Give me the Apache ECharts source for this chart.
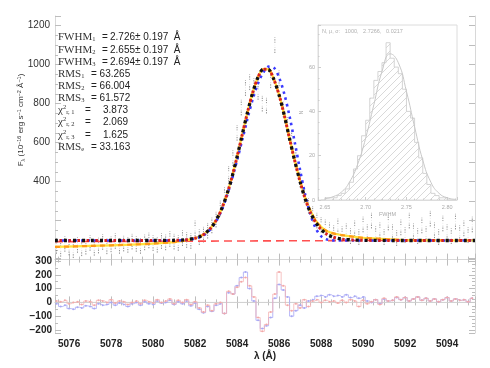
<!DOCTYPE html>
<html><head><meta charset="utf-8">
<script src="https://cdn.jsdelivr.net/npm/echarts@6/dist/echarts.min.js"></script>
<style>html,body{margin:0;padding:0;background:#fff}#c{width:490px;height:368px}</style>
</head><body><div id="c"></div>
<script>
// ---------------- data ----------------
const obsStart = 5075.4, obsStep = 0.2;
const obsFlux = [70,55,80,62,48,75,58,66,85,60,
 72,90,68,78,95,70,82,75,92,80,
 70,88,98,84,76,95,88,105,92,85,
 110,100,95,160,115,128,148,175,205,262,
 330,440,520,650,780,880,910,890,860,800,
 790,920,1100,930,770,690,620,520,410,330,
 275,235,200,178,165,150,135,170,130,145,
 120,160,115,180,140,200,130,150,115,190,
 140,110,165,125,200,145,120,175,130,210,
 150,115,185,140,120,195,135,160,125,180];
const obsErr = 40;

const fitLambda = [5075.33,5077,5079,5080,5081,5081.5,5082,5082.25,5082.5,5082.75,5083,5083.25,5083.5,5083.75,5084,5084.25,5084.5,5084.75,5085,5085.25,5085.5,5085.75,5086,5086.25,5086.5,5086.75,5087,5087.25,5087.5,5087.75,5088,5088.25,5088.5,5088.75,5089,5089.5,5090,5092,5095.33];
const fit1 = [98,98,98,98,99,101,110,119,136,162,201,256,329,420,527,643,757,859,936,977,975,925,845,740,620,505,400,310,240,190,155,132,118,110,105,101,99,98,98];
const fit2 = [65,70,77,82,90,97,110,120,137,163,202,257,330,421,528,644,758,860,937,978,976,926,846,742,622,508,404,316,250,200,168,148,137,130,126,118,112,100,98];
const fit3 = [98,98,98,98,98,100,108,117,132,158,196,250,322,410,510,615,725,825,905,960,990,985,935,850,735,600,460,330,230,160,120,104,99,98,98,98,98,98,98];
const contLambda = [5075.33, 5095.33];
const contFlux = [92, 100];

const resRed = [10,5,15,-10,0,5,-15,10,5,-20,
 15,10,0,20,-5,10,5,-15,0,10,
 -10,15,5,-5,20,0,10,25,-10,15,
 0,20,-15,5,-40,-70,-20,-60,-10,0,
 -80,80,60,110,150,180,120,40,-110,-210,
 -160,-70,60,220,120,-20,-60,-10,-40,20,
 -30,10,20,0,15,5,10,-5,15,0,
 20,10,-30,15,-10,5,20,-15,30,10,
 15,40,20,35,10,25,40,15,30,10,
 25,5,20,35,10,25,15,20,5,30];
const resBlue = [-10,-30,-20,-45,-50,-35,-40,-25,-30,-45,
 -10,-20,-15,0,-20,-5,-15,-30,-10,0,
 -20,5,-10,-15,10,-5,0,15,-15,5,
 -10,10,-25,-5,-50,-75,-30,-65,-20,-10,
 -80,70,60,120,180,220,100,10,-130,-190,
 -170,-110,30,130,90,40,-100,-60,-20,-40,
 10,20,45,50,40,55,45,50,40,55,
 35,45,30,40,10,0,20,-10,25,10,
 15,35,20,35,10,25,40,15,30,10,
 25,5,20,35,10,25,15,20,5,30];

const histEdges = [2.645,2.650,2.655,2.660,2.665,2.670,2.675,2.680,2.685,2.690,2.695,2.700,2.705,2.710,2.715,2.720,2.725,2.730,2.735,2.740,2.745,2.750,2.755,2.760,2.765,2.770,2.775,2.780,2.785,2.790,2.795,2.800,2.805,2.810];
const histCounts = [0,1,1,1,2,3,5,8,14,20,29,36,46,54,58,62,71,64,60,57,50,40,37,26,19,12,7,3,2,1,1,0,0];
const gaussX = [2.65,2.66,2.67,2.68,2.69,2.70,2.71,2.72,2.73,2.74,2.75,2.76,2.77,2.78,2.79,2.80,2.81];
const gaussY = [0.5,1.5,3.5,8,16,28,43,58,66,62,49,33,18,8,3,1,0.3];

const fwhmVals = ['2.726','2.655','2.694'];
const fwhmErr = ['0.197','0.197','0.197'];
const rmsVals = ['63.265','66.004','61.572'];
const chiVals = ['3.873','2.069','1.625'];
const rmsEVal = '33.163';
const insetHeader = 'N, μ, σ:   1000,   2.7266,   0.0217';
const yTitle = '{a|F}{s|λ}{a| (10}{p|−16}{a| erg s}{p|−1}{a| cm}{p|−2}{a| Å}{p|−1}{a|)}';
const xTitle = 'λ (Å)';

// ---------------- build ----------------
const obsData = obsFlux.map((v,i)=>[+(obsStart+obsStep*i).toFixed(2), v]);
const resRedData = resRed.map((v,i)=>[+(obsStart+obsStep*i).toFixed(2), v]);
const resBlueData = resBlue.map((v,i)=>[+(obsStart+obsStep*i).toFixed(2), v]);
const pair = (xs, ys) => xs.map((x,i)=>[x, ys[i]]);
const histData = histEdges.map((x,i)=>[x, i<histCounts.length ? histCounts[i] : 0]);

// hatch pattern
const pc = document.createElement('canvas');
pc.width = 7; pc.height = 7;
const cx = pc.getContext('2d');
cx.strokeStyle = '#cfcfcf'; cx.lineWidth = 0.8;
cx.beginPath(); cx.moveTo(0,7); cx.lineTo(7,0); cx.moveTo(-1,1); cx.lineTo(1,-1); cx.moveTo(6,8); cx.lineTo(8,6); cx.stroke();

const FR = '#d8d8d8', TK = '#bdbdbd';
const tickLbl = {color:'#333', fontSize:10, fontFamily:'Liberation Sans, Arial'};
function frameAx(extra){
  return Object.assign({
    type:'value', axisLine:{show:true, lineStyle:{color:FR}},
    axisTick:{show:true, inside:true, length:6, lineStyle:{color:TK}},
    minorTick:{show:true, splitNumber:4, length:3, lineStyle:{color:TK}},
    splitLine:{show:false}, axisLabel:{show:false}
  }, extra);
}
const X0 = 5075.33, X1 = 5095.33;

const option = {
  animation:false,
  backgroundColor:'#fff',
  grid:[
    {left:55, right:15, top:16, height:243.6},
    {left:55, right:15, top:258, height:75},
    {left:318, width:139, top:25, height:175, show:true, backgroundColor:'#fff', borderColor:'#dcdcdc', borderWidth:1, z:20}
  ],
  xAxis:[
    frameAx({gridIndex:0, position:'bottom', min:X0, max:X1, splitNumber:10}),
    frameAx({gridIndex:0, position:'top', min:X0, max:X1, splitNumber:10}),
    frameAx({gridIndex:1, position:'bottom', min:X0, max:X1, splitNumber:10,
      axisLabel:{show:true, margin:6, showMinLabel:false, showMaxLabel:false, fontWeight:'bold', color:'#222',
        fontSize:10, fontFamily:'Liberation Sans, Arial', formatter:v=>String(Math.round(v))}}),
    frameAx({gridIndex:1, position:'top', min:X0, max:X1, splitNumber:10}),
    frameAx({gridIndex:2, position:'bottom', min:2.6415, max:2.812, splitNumber:4, z:21,
      axisLine:{show:true, lineStyle:{color:'#dcdcdc'}},
      axisTick:{show:true, inside:true, length:3, lineStyle:{color:'#ccc'}},
      minorTick:{show:true, splitNumber:5, length:1.5, lineStyle:{color:'#ccc'}},
      axisLabel:{show:true, fontSize:5.5, color:'#aaa', margin:4, showMinLabel:false, showMaxLabel:false, formatter:v=>v.toFixed(2)},
      name:'FWHM', nameLocation:'middle', nameGap:11, nameTextStyle:{fontSize:5.5, color:'#aaa'}})
  ],
  yAxis:[
    frameAx({gridIndex:0, position:'left', min:0, max:1250, interval:200,
      axisLabel:Object.assign({show:true, margin:5, showMaxLabel:false, formatter:v=> v>=400 ? String(v) : ''}, tickLbl)}),
    frameAx({gridIndex:0, position:'right', min:0, max:1250, interval:100, minorTick:{show:false}}),
    frameAx({gridIndex:1, position:'left', min:-222, max:322, splitNumber:5,
      minorTick:{show:true, splitNumber:2, length:3, lineStyle:{color:TK}},
      axisLabel:{show:true, margin:3, showMinLabel:false, showMaxLabel:false, fontSize:10, fontWeight:'bold', color:'#222', fontFamily:'Liberation Sans, Arial',
        formatter:v=> v<0 ? '−'+(-v) : String(v)}}),
    frameAx({gridIndex:1, position:'right', min:-222, max:322, splitNumber:5}),
    frameAx({gridIndex:2, position:'left', min:0, max:79, interval:20, z:21,
      axisLine:{show:true, lineStyle:{color:'#dcdcdc'}},
      axisTick:{show:true, inside:true, length:3, lineStyle:{color:'#ccc'}},
      minorTick:{show:true, splitNumber:4, length:1.5, lineStyle:{color:'#ccc'}},
      axisLabel:{show:true, fontSize:5.5, color:'#aaa', margin:3, showMaxLabel:false},
      name:'N', nameLocation:'middle', nameGap:10, nameTextStyle:{fontSize:5.5, color:'#aaa'}})
  ],
  series:[
    // continuum
    {type:'line', xAxisIndex:0, yAxisIndex:0, data:pair(contLambda, contFlux), symbol:'none',
      lineStyle:{color:'#ff5050', width:1.6, type:[8,5]}, z:3},
    // error bars on observed spectrum
    {type:'custom', xAxisIndex:0, yAxisIndex:0, clip:true, z:2,
      data: obsData.map(d=>[d[0], d[1], obsErr]),
      renderItem:(p, api)=>{
        const x=api.value(0), y=api.value(1), e=api.value(2);
        const a=api.coord([x,y-e]), b=api.coord([x,y+e]);
        return {type:'line', shape:{x1:a[0],y1:a[1],x2:b[0],y2:b[1]}, style:{stroke:'#8c8c8c', lineWidth:1, lineDash:[1.3,1.2]}};
      }},
    {type:'scatter', xAxisIndex:0, yAxisIndex:0, data:obsData, symbol:'emptyCircle', symbolSize:3.5,
      itemStyle:{color:'#fff', borderColor:'#6e6e6e', borderWidth:0.9}, z:2},
    // fit 2 (yellow + orange dashed)
    {type:'line', xAxisIndex:0, yAxisIndex:0, data:pair(fitLambda, fit2), symbol:'none', smooth:0.3,
      lineStyle:{color:'#ffe23a', width:2.2}, z:4},
    {type:'line', xAxisIndex:0, yAxisIndex:0, data:pair(fitLambda, fit2), symbol:'none', smooth:0.3,
      lineStyle:{color:'#ff9a1a', width:2.2, type:[5,4]}, z:5},
    // fit 3 (blue dotted)
    {type:'line', xAxisIndex:0, yAxisIndex:0, data:pair(fitLambda, fit3), symbol:'none', smooth:0.3,
      lineStyle:{color:'#3a3aff', width:2.6, type:[2.5,4]}, z:6},
    // fit 1 (black + red dots)
    {type:'line', xAxisIndex:0, yAxisIndex:0, data:pair(fitLambda, fit1), symbol:'none', smooth:0.3,
      lineStyle:{color:'#111', width:3.3, type:[3,6]}, z:7},
    {type:'line', xAxisIndex:0, yAxisIndex:0, data:pair(fitLambda, fit1), symbol:'none', smooth:0.3,
      lineStyle:{color:'#d82020', width:3, type:[2.5,6.5], dashOffset:4.5}, z:8},
    // residuals
    {type:'line', xAxisIndex:2, yAxisIndex:2, data:[[X0,0],[X1,0]], symbol:'none', lineStyle:{color:'#cfcfcf', width:0.8}, z:2},
    {type:'line', xAxisIndex:2, yAxisIndex:2, data:resBlueData, step:'middle', symbol:'circle', symbolSize:2,
      itemStyle:{color:'#a8a8f4'}, lineStyle:{color:'#b0b0f6', width:0.9}, z:3},
    {type:'line', xAxisIndex:2, yAxisIndex:2, data:resRedData, step:'middle', symbol:'circle', symbolSize:2,
      itemStyle:{color:'#f2a8a8'}, lineStyle:{color:'#f5b0b0', width:0.9, opacity:0.85}, z:4},
    // inset histogram
    {type:'line', xAxisIndex:4, yAxisIndex:4, data:histData, step:'end', symbol:'none', z:22,
      lineStyle:{color:'#cfcfcf', width:0.9},
      areaStyle:{color:{image:pc, repeat:'repeat'}, opacity:1}},
    {type:'line', xAxisIndex:4, yAxisIndex:4, data:pair(gaussX, gaussY), symbol:'none', smooth:true, z:23,
      lineStyle:{color:'#c8c8c8', width:1}}
  ],
  graphic:[]
};

// stats text block
const lblFont = 'Liberation Serif, DejaVu Serif, serif';
const numFont = 'Liberation Sans, Arial, sans-serif';
const rich = {
  m:{fontFamily:lblFont, fontSize:11, fill:'#333', lineHeight:12},
  s:{fontFamily:lblFont, fontSize:6.5, fill:'#333', lineHeight:7, verticalAlign:'bottom'},
  p:{fontFamily:lblFont, fontSize:6.5, fill:'#333', lineHeight:7, verticalAlign:'top'}
};
const G = option.graphic;
function txt(t, x, y, o){
  G.push({type:'text', z:100, x:x, y:y, style:Object.assign({text:t, fill:'#222', font:'10px '+numFont, verticalAlign:'middle', rich:rich}, o||{})});
}
const rowY = [37,50,62,74,86,98,110,122,135,147];
for(let i=0;i<3;i++){
  txt('{m|FWHM}{s|'+(i+1)+'}', 58, rowY[i]);
  txt('=', 102, rowY[i]);
  txt(fwhmVals[i]+'± '+fwhmErr[i]+'  Å', 110, rowY[i]);
}
for(let i=0;i<3;i++){
  txt('{m|RMS}{s|'+(i+1)+'}', 58, rowY[3+i]);
  txt('= '+rmsVals[i], 91, rowY[3+i]);
}
for(let i=0;i<3;i++){
  txt('{m|χ}{p|2}{s|r, '+(i+1)+'}', 58, rowY[6+i]);
  txt('=', 85, rowY[6+i]);
  txt(chiVals[i], 128, rowY[6+i], {align:'right'});
}
txt('{m|RMS}{s|e}', 58, rowY[9]);
txt('= '+rmsEVal, 91, rowY[9]);

// inset header
G.push({type:'text', z:100, x:322, y:31, style:{text:insetHeader, fill:'#b0b0b0', font:'5.5px '+numFont, verticalAlign:'middle'}});

// axis titles
G.push({type:'text', z:100, x:21, y:120, rotation:Math.PI/2,
  style:{text:yTitle, align:'center', verticalAlign:'middle', fill:'#333',
    rich:{a:{fontFamily:numFont, fontSize:8, fill:'#333', lineHeight:10},
          s:{fontFamily:numFont, fontSize:5.5, fill:'#333', lineHeight:6, verticalAlign:'bottom'},
          p:{fontFamily:numFont, fontSize:5.5, fill:'#333', lineHeight:6, verticalAlign:'top'}}}});
G.push({type:'text', z:100, x:265, y:356, style:{text:xTitle, align:'center', verticalAlign:'middle', fill:'#222', font:'bold 10px '+numFont}});

const chart = echarts.init(document.getElementById('c'), null, {renderer:'canvas'});
chart.setOption(option);
</script>
</body></html>
